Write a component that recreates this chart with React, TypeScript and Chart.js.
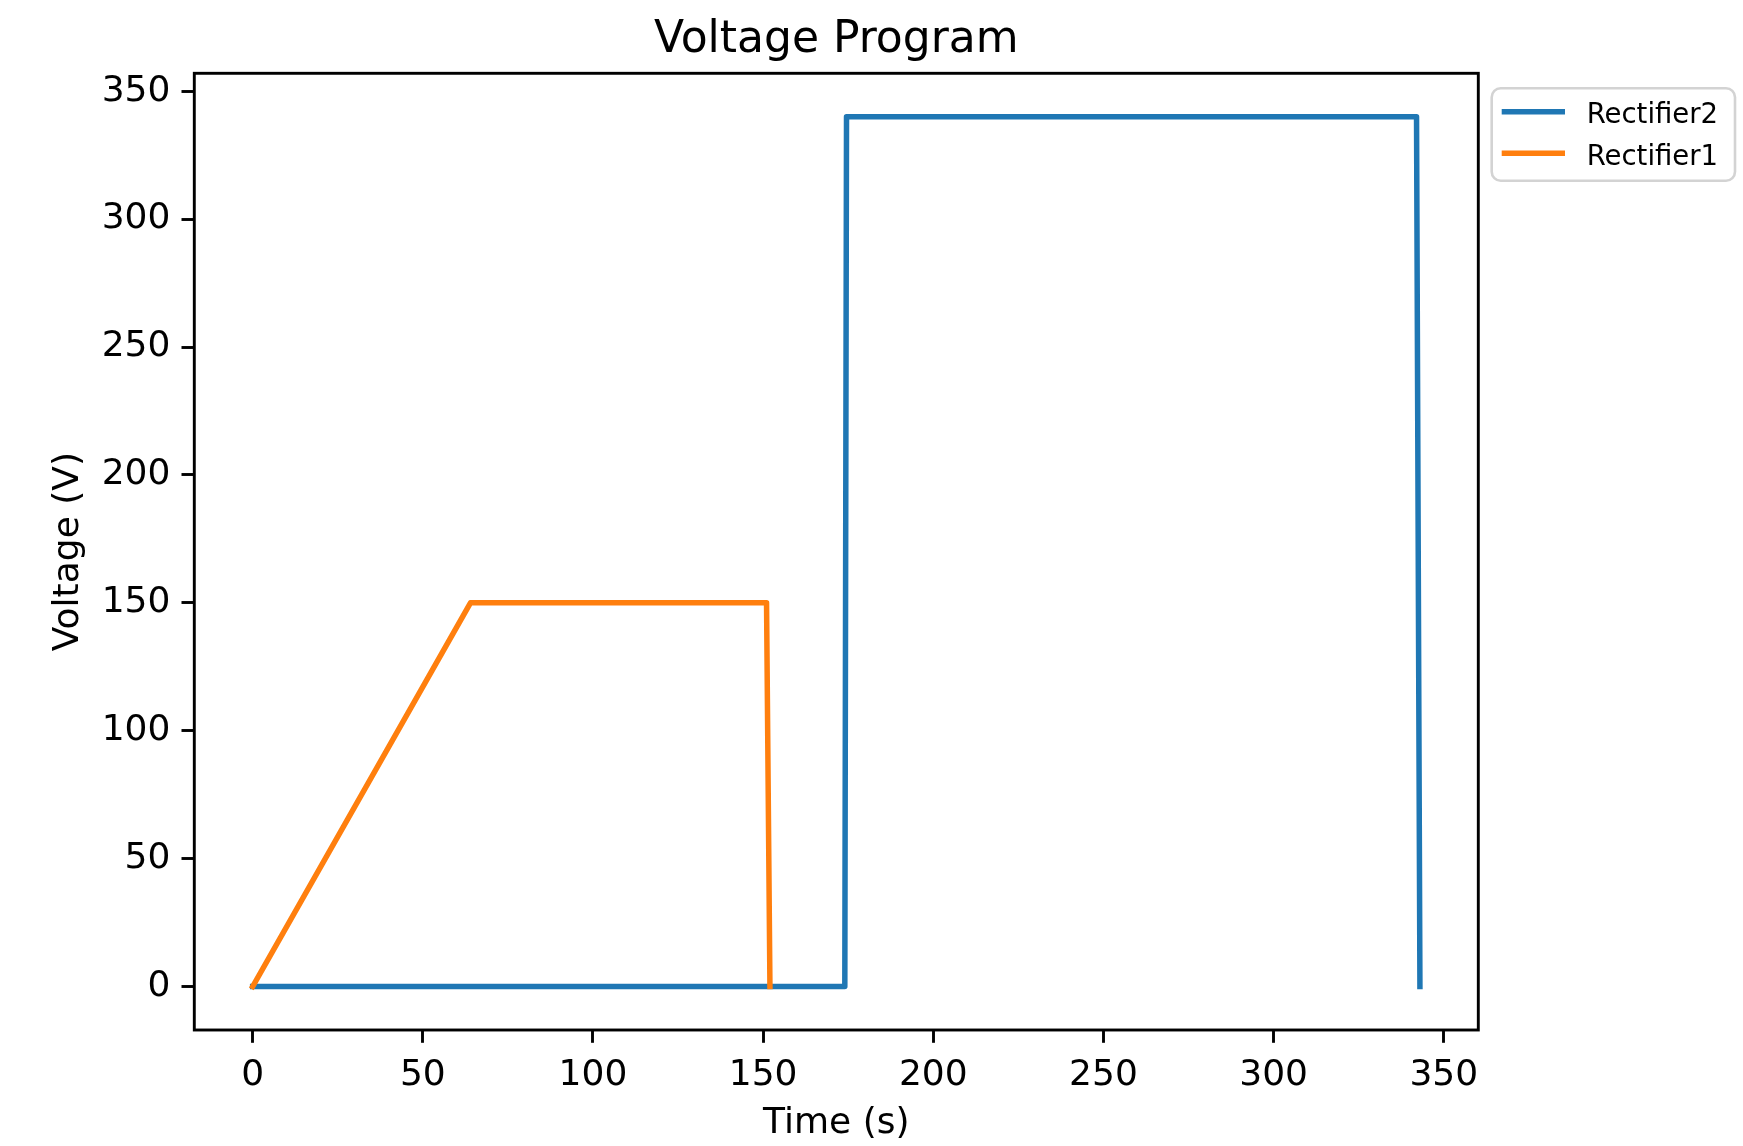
import React, { useEffect, useRef } from "react";
import { Chart, registerables } from "chart.js";

Chart.register(...registerables);

const timeRectifier2 = [0, 174, 174.5, 342, 343];
const voltRectifier2 = [0, 0, 340, 340, 0];
const timeRectifier1 = [0, 64, 151, 152];
const voltRectifier1 = [0, 150, 150, 0];
const xTickValues = [0, 50, 100, 150, 200, 250, 300, 350];
const yTickValues = [0, 50, 100, 150, 200, 250, 300, 350];

const FONT = "'DejaVu Sans', sans-serif";

const framePlugin = {
  id: "frameAndLegend",
  afterDraw(chart: any) {
    const { ctx, chartArea } = chart;
    ctx.save();
    ctx.strokeStyle = "#000";
    ctx.lineWidth = 2.9;
    ctx.strokeRect(
      chartArea.left,
      chartArea.top,
      chartArea.right - chartArea.left,
      chartArea.bottom - chartArea.top
    );
    // legend
    const bx = 1491.7, by = 88.3, bw = 243.3, bh = 92.4, r = 9;
    ctx.beginPath();
    ctx.moveTo(bx + r, by);
    ctx.lineTo(bx + bw - r, by);
    ctx.arcTo(bx + bw, by, bx + bw, by + r, r);
    ctx.lineTo(bx + bw, by + bh - r);
    ctx.arcTo(bx + bw, by + bh, bx + bw - r, by + bh, r);
    ctx.lineTo(bx + r, by + bh);
    ctx.arcTo(bx, by + bh, bx, by + bh - r, r);
    ctx.lineTo(bx, by + r);
    ctx.arcTo(bx, by, bx + r, by, r);
    ctx.closePath();
    ctx.fillStyle = "rgba(255,255,255,0.8)";
    ctx.fill();
    ctx.strokeStyle = "#d3d3d3";
    ctx.lineWidth = 2.6;
    ctx.stroke();
    const rowsY = [111.7, 153.3];
    chart.data.datasets.forEach((ds: any, i: number) => {
      const y = rowsY[i];
      ctx.beginPath();
      ctx.strokeStyle = ds.borderColor;
      ctx.lineWidth = ds.borderWidth;
      ctx.lineCap = "butt";
      ctx.moveTo(1501.7, y);
      ctx.lineTo(1565, y);
      ctx.stroke();
      ctx.fillStyle = "#000";
      ctx.font = `27.5px ${FONT}`;
      ctx.textAlign = "left";
      ctx.textBaseline = "alphabetic";
      ctx.fillText(ds.label, 1586.7, y + 11.7);
    });
    ctx.restore();
  },
};

export default function App() {
  const ref = useRef<HTMLCanvasElement>(null);
  useEffect(() => {
    if (!ref.current) return;
    const chart = new Chart(ref.current, {
      type: "line",
      data: {
        datasets: [
          {
            label: "Rectifier2",
            data: timeRectifier2.map((t, i) => ({ x: t, y: voltRectifier2[i] })),
            borderColor: "#1f77b4",
            backgroundColor: "#1f77b4",
            borderWidth: 5.5,
            pointRadius: 0,
            tension: 0,
            borderJoinStyle: "round",
            borderCapStyle: "square",
            order: 1,
          },
          {
            label: "Rectifier1",
            data: timeRectifier1.map((t, i) => ({ x: t, y: voltRectifier1[i] })),
            borderColor: "#ff7f0e",
            backgroundColor: "#ff7f0e",
            borderWidth: 5.5,
            pointRadius: 0,
            tension: 0,
            borderJoinStyle: "round",
            borderCapStyle: "square",
            order: 0,
          },
        ],
      },
      options: {
        animation: false,
        responsive: true,
        maintainAspectRatio: false,
        layout: { padding: { left: 0, top: 0, right: 264.7, bottom: 0 } },
        plugins: {
          legend: { display: false },
          tooltip: { enabled: false },
          title: {
            display: true,
            text: "Voltage Program",
            fullSize: false,
            color: "#000",
            font: { family: FONT, size: 44, weight: "normal", lineHeight: 1.2 },
            padding: { top: 14.2, bottom: 6.3 },
          },
        },
        scales: {
          x: {
            type: "linear",
            min: -17.15,
            max: 360.15,
            afterBuildTicks: (scale: any) => {
              scale.ticks = xTickValues.map((v) => ({ value: v }));
            },
            afterFit: (scale: any) => {
              scale.height = 116;
            },
            border: { display: false },
            grid: {
              drawOnChartArea: false,
              drawTicks: true,
              tickLength: 12.8,
              tickWidth: 2.9,
              tickColor: "#000",
            },
            ticks: {
              autoSkip: false,
              maxRotation: 0,
              color: "#000",
              padding: 10.9,
              font: { family: FONT, size: 36 },
            },
            title: {
              display: true,
              text: "Time (s)",
              color: "#000",
              font: { family: FONT, size: 36, lineHeight: 1.2 },
              padding: { top: 0, bottom: 0.7 },
            },
          },
          y: {
            type: "linear",
            min: -17,
            max: 357,
            afterBuildTicks: (scale: any) => {
              scale.ticks = yTickValues.map((v) => ({ value: v }));
            },
            afterFit: (scale: any) => {
              scale.width = 194.3;
            },
            border: { display: false },
            grid: {
              drawOnChartArea: false,
              drawTicks: true,
              tickLength: 12.8,
              tickWidth: 2.9,
              tickColor: "#000",
            },
            ticks: {
              autoSkip: false,
              color: "#000",
              padding: 11.1,
              font: { family: FONT, size: 36 },
            },
            title: {
              display: true,
              text: "Voltage (V)",
              color: "#000",
              font: { family: FONT, size: 36, lineHeight: 1.2 },
              padding: { top: 47.3, bottom: 0 },
            },
          },
        },
      },
      plugins: [framePlugin],
    } as any);
    return () => chart.destroy();
  }, []);
  return (
    <div style={{ position: "fixed", left: 0, top: 0, width: "1743px", height: "1146px", background: "#fff" }}>
      <canvas ref={ref} />
    </div>
  );
}
